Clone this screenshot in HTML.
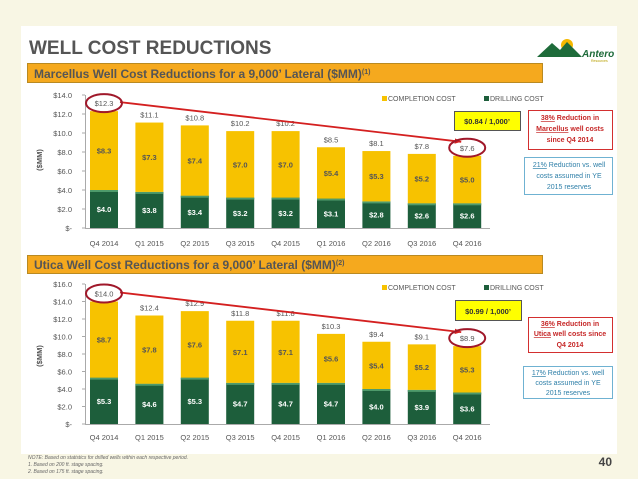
<!DOCTYPE html>
<html><head><meta charset="utf-8">
<style>
body{margin:0;background:#f8f6e4;font-family:"Liberation Sans",sans-serif;}
#wrap{position:relative;width:638px;height:479px;overflow:hidden;}
svg text{font-family:"Liberation Sans",sans-serif;}
</style></head>
<body>
<div id="wrap">
<svg id="s" width="638" height="479" xmlns="http://www.w3.org/2000/svg">
<rect x="21" y="26" width="596" height="428" fill="#ffffff"/>
<text x="29" y="54" font-size="19" font-weight="bold" fill="#555">WELL COST REDUCTIONS</text>
<g>
<circle cx="567" cy="45" r="6" fill="#f5b800"/>
<polygon points="537,57 552,43 560,50 567,42 582,57" fill="#1e6b3a"/>
<text x="582" y="57" font-size="10" font-style="italic" font-weight="bold" fill="#1e6b3a">Antero</text>
<text x="591" y="62" font-size="3.5" fill="#b8a000">Resources</text>
</g>
<g>
<rect x="27.5" y="63.5" width="515" height="19" fill="#f5a91e" stroke="#b98a22"/>
<text x="34" y="78" font-size="12" font-weight="bold" fill="#555">Marcellus Well Cost Reductions for a 9,000’ Lateral ($MM)<tspan font-size="7" dy="-4">(1)</tspan></text>
</g>
<g>
<rect x="27.5" y="255.5" width="515" height="18" fill="#f5a91e" stroke="#b98a22"/>
<text x="34" y="269" font-size="12" font-weight="bold" fill="#555">Utica Well Cost Reductions for a 9,000’ Lateral ($MM)<tspan font-size="7" dy="-4">(2)</tspan></text>
</g>
<g id="c1"></g>
<g id="c2"></g>
<g>
<rect x="454.5" y="111.5" width="66" height="19" fill="#ffff00" stroke="#555"/>
<text x="487" y="124" font-size="7.5" font-weight="bold" text-anchor="middle" fill="#333">$0.84 / 1,000’</text>
<rect x="528.5" y="110.5" width="84" height="39" fill="#fff" stroke="#d32f2f"/>
<text x="570" y="120" font-size="7" font-weight="bold" text-anchor="middle" fill="#c62828"><tspan text-decoration="underline">38%</tspan> Reduction in</text>
<text x="570" y="131" font-size="7" font-weight="bold" text-anchor="middle" fill="#c62828"><tspan text-decoration="underline">Marcellus</tspan> well costs</text>
<text x="570" y="142" font-size="7" font-weight="bold" text-anchor="middle" fill="#c62828">since Q4 2014</text>
<rect x="524.5" y="157.5" width="88" height="37" fill="#fff" stroke="#6fb2d2"/>
<text x="569" y="167" font-size="7" text-anchor="middle" fill="#2e7fa8"><tspan text-decoration="underline">21%</tspan> Reduction vs. well</text>
<text x="569" y="178" font-size="7" text-anchor="middle" fill="#2e7fa8">costs assumed in YE</text>
<text x="569" y="189" font-size="7" text-anchor="middle" fill="#2e7fa8">2015 reserves</text>
</g>
<g>
<rect x="455.5" y="300.5" width="66" height="20" fill="#ffff00" stroke="#555"/>
<text x="488" y="314" font-size="7.5" font-weight="bold" text-anchor="middle" fill="#333">$0.99 / 1,000’</text>
<rect x="528.5" y="317.5" width="84" height="35" fill="#fff" stroke="#d32f2f"/>
<text x="570" y="326" font-size="7" font-weight="bold" text-anchor="middle" fill="#c62828"><tspan text-decoration="underline">36%</tspan> Reduction in</text>
<text x="570" y="336" font-size="7" font-weight="bold" text-anchor="middle" fill="#c62828"><tspan text-decoration="underline">Utica</tspan> well costs since</text>
<text x="570" y="347" font-size="7" font-weight="bold" text-anchor="middle" fill="#c62828">Q4 2014</text>
<rect x="523.5" y="366.5" width="89" height="32" fill="#fff" stroke="#6fb2d2"/>
<text x="568" y="375" font-size="7" text-anchor="middle" fill="#2e7fa8"><tspan text-decoration="underline">17%</tspan> Reduction vs. well</text>
<text x="568" y="385" font-size="7" text-anchor="middle" fill="#2e7fa8">costs assumed in YE</text>
<text x="568" y="395" font-size="7" text-anchor="middle" fill="#2e7fa8">2015 reserves</text>
</g>
<g>
<text x="28" y="459" font-size="5" font-style="italic" fill="#666">NOTE: Based on statistics for drilled wells within each respective period.</text>
<text x="28" y="466" font-size="5" font-style="italic" fill="#666">1.  Based on 200 ft. stage spacing.</text>
<text x="28" y="473" font-size="5" font-style="italic" fill="#666">2.  Based on 175 ft. stage spacing.</text>
</g>
<text x="612" y="466" font-size="12" font-weight="bold" text-anchor="end" fill="#444">40</text>
</svg>
</div>
<script>
const categories = ["Q4 2014","Q1 2015","Q2 2015","Q3 2015","Q4 2015","Q1 2016","Q2 2016","Q3 2016","Q4 2016"];
const marcellusDrilling = [4.0,3.8,3.4,3.2,3.2,3.1,2.8,2.6,2.6];
const marcellusCompletion = [8.3,7.3,7.4,7.0,7.0,5.4,5.3,5.2,5.0];
const marcellusTotals = [12.3,11.1,10.8,10.2,10.2,8.5,8.1,7.8,7.6];
const marcellusTicks = [0,2,4,6,8,10,12,14];
const uticaDrilling = [5.3,4.6,5.3,4.7,4.7,4.7,4.0,3.9,3.6];
const uticaCompletion = [8.7,7.8,7.6,7.1,7.1,5.6,5.4,5.2,5.3];
const uticaTotals = [14.0,12.4,12.9,11.8,11.8,10.3,9.4,9.1,8.9];
const uticaTicks = [0,2,4,6,8,10,12,14,16];

const NS="http://www.w3.org/2000/svg";
function mk(parent,tag,attrs,txt){const e=document.createElementNS(NS,tag);for(const k in attrs)e.setAttribute(k,attrs[k]);if(txt!==undefined)e.textContent=txt;parent.appendChild(e);return e;}
function fmt(v){return v===0?"$-":"$"+v.toFixed(1);}

function drawChart(g,cfg){
  const {y0,y1,max,drill,comp,tot,ticks,legendY,xLabelY,yTitleY}=cfg;
  const x0=104, step=45.4, bw=28;
  const xs=i=>x0+i*step;
  const ys=v=>y0-(v/max)*(y0-y1);
  mk(g,'line',{x1:85,y1:y0+0.5,x2:490,y2:y0+0.5,stroke:'#aaa'});
  mk(g,'line',{x1:85.5,y1:ys(max),x2:85.5,y2:y0,stroke:'#aaa'});
  ticks.forEach(t=>{
    const tk=mk(g,'text',{x:72,y:ys(t)+3,'font-size':7.5,'text-anchor':'end',fill:'#555'},fmt(t));
    
    
    mk(g,'line',{x1:82,y1:ys(t),x2:85,y2:ys(t),stroke:'#aaa'});
  });
  const yt=mk(g,'text',{x:0,y:0,'font-size':7.5,'font-weight':'bold','text-anchor':'middle',fill:'#555',transform:`translate(42,${yTitleY}) rotate(-90)`},'($MM)');
  
  
  categories.forEach((c,i)=>{
    const cx=xs(i);
    const d=mk(g,'rect',{x:cx-bw/2,y:ys(drill[i]),width:bw,height:y0-ys(drill[i]),fill:'#1d5e3b'});
    
    
    mk(g,'rect',{x:cx-bw/2,y:ys(drill[i]),width:bw,height:2,fill:'#4e9a6b'});
    const cp=mk(g,'rect',{x:cx-bw/2,y:ys(drill[i]+comp[i]),width:bw,height:ys(drill[i])-ys(drill[i]+comp[i]),fill:'#f7c200'});
    
    
    mk(g,'text',{x:cx,y:(ys(drill[i])+y0)/2+3,'font-size':7.5,'font-weight':'bold','text-anchor':'middle',fill:'#fff'},fmt(drill[i]));
    mk(g,'text',{x:cx,y:(ys(drill[i])+ys(drill[i]+comp[i]))/2+3,'font-size':7.5,'font-weight':'bold','text-anchor':'middle',fill:'#555'},fmt(comp[i]));
    mk(g,'text',{x:cx,y:ys(tot[i])-5,'font-size':7.5,'text-anchor':'middle',fill:'#555'},fmt(tot[i]));
    const xl=mk(g,'text',{x:cx,y:xLabelY,'font-size':7.5,'text-anchor':'middle',fill:'#555'},c);
    
    
  });
  const lg=mk(g,'g',{});
  
  
  mk(lg,'rect',{x:382,y:legendY-5,width:5,height:5,fill:'#f7c200'});
  mk(lg,'text',{x:388,y:legendY,'font-size':7,fill:'#555'},'COMPLETION COST');
  mk(lg,'rect',{x:484,y:legendY-5,width:5,height:5,fill:'#1d5e3b'});
  mk(lg,'text',{x:490,y:legendY,'font-size':7,fill:'#555'},'DRILLING COST');
  const n=categories.length-1;
  const ax1=xs(0)+16, ay1=ys(tot[0])-9, ax2=xs(n)-6, ay2=ys(tot[n])-14;
  const ar=mk(g,'g',{});
  
  
  mk(ar,'line',{x1:ax1,y1:ay1,x2:ax2,y2:ay2,stroke:'#d42020','stroke-width':1.8});
  const ang=Math.atan2(ay2-ay1,ax2-ax1);
  const p=(a,l)=>[ax2-l*Math.cos(ang+a),ay2-l*Math.sin(ang+a)];
  const a1=p(0.4,7),a2=p(-0.4,7);
  mk(ar,'polygon',{points:`${ax2},${ay2} ${a1[0]},${a1[1]} ${a2[0]},${a2[1]}`,fill:'#d42020'});
  [0,n].forEach(i=>{
    const e=mk(g,'ellipse',{cx:xs(i),cy:ys(tot[i])-8,rx:18,ry:9,fill:'none',stroke:'#a0182a','stroke-width':2});
    
    
  });
}
drawChart(document.getElementById('c1'),{y0:228,y1:95,max:14,drill:marcellusDrilling,comp:marcellusCompletion,tot:marcellusTotals,ticks:marcellusTicks,legendY:101,xLabelY:246,yTitleY:160});
drawChart(document.getElementById('c2'),{y0:424,y1:284,max:16,drill:uticaDrilling,comp:uticaCompletion,tot:uticaTotals,ticks:uticaTicks,legendY:290,xLabelY:440,yTitleY:356});
</script>
</body></html>
